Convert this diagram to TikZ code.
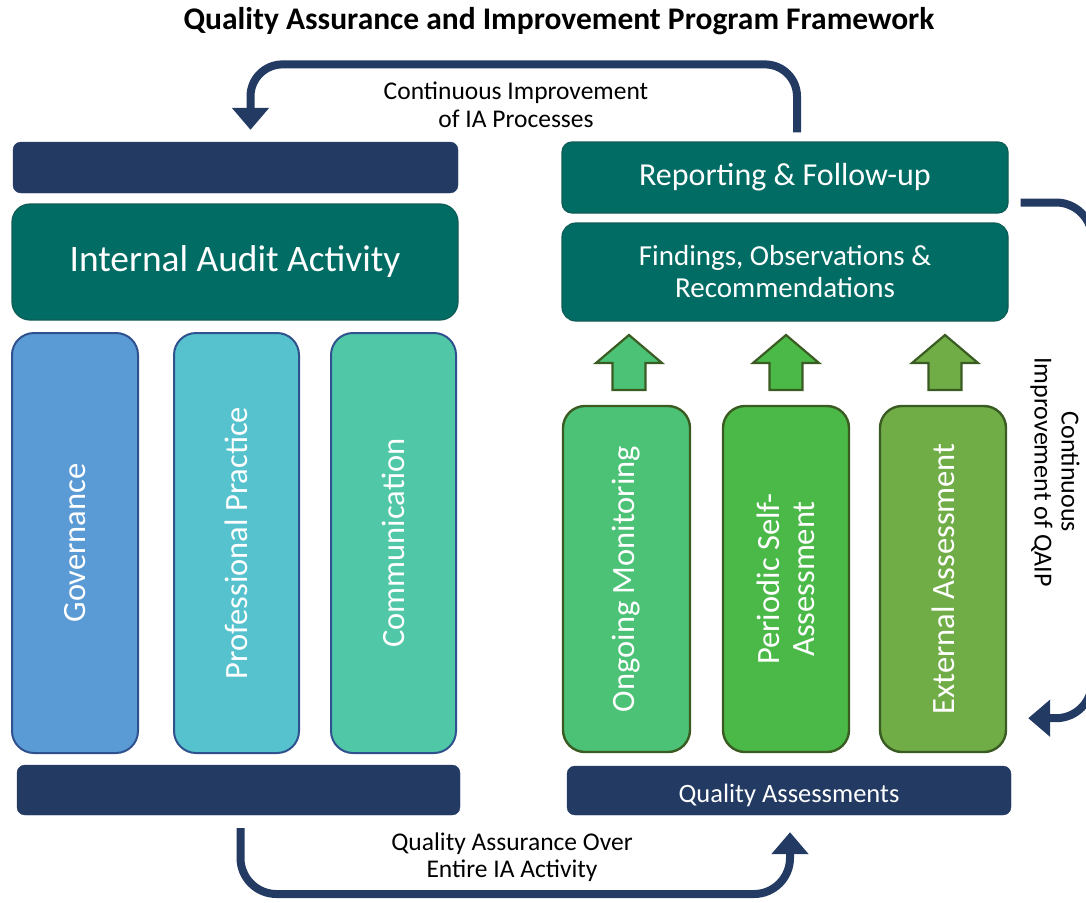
\documentclass[tikz,border=0pt]{standalone}
\usepackage{fontspec}
\setmainfont{Carlito}
\usetikzlibrary{arrows.meta}

\definecolor{navy}{RGB}{35,58,99}
\definecolor{teal}{RGB}{0,108,100}
\definecolor{tealedge}{RGB}{14,92,86}
\definecolor{blueedge}{RGB}{47,82,143}
\definecolor{govfill}{RGB}{91,155,213}
\definecolor{proffill}{RGB}{86,194,205}
\definecolor{commfill}{RGB}{80,200,168}
\definecolor{greenedge}{RGB}{58,92,35}
\definecolor{ongfill}{RGB}{76,194,118}
\definecolor{perfill}{RGB}{74,185,71}
\definecolor{extfill}{RGB}{112,173,71}

\tikzset{
  navbar/.style={fill=navy, draw=navy, rounded corners=8, inner sep=0},
  tealbox/.style={fill=teal, draw=tealedge, line width=1.2, text=white, inner sep=0, align=center},
  pillar/.style={draw=blueedge, line width=2, rounded corners=22, inner sep=0},
  gpillar/.style={draw=greenedge, line width=2.4, rounded corners=22, inner sep=0},
  vlabel/.style={rotate=90, text=white, align=center, font=\fontsize{32.5}{35}\selectfont},
  uparrow/.style={draw=greenedge, line width=2.2, line join=miter},
  flow/.style={draw=navy, line width=8, -{Triangle[width=36, length=22]}},
  caption/.style={align=center, font=\fontsize{25.5}{27.5}\selectfont},
}

\begin{document}
\begin{tikzpicture}[x=1pt, y=-1pt]
\clip (0,0) rectangle (1086,902);
\useasboundingbox (0,0) rectangle (1086,902);

% title
\node[font=\bfseries\fontsize{31.5}{34}\selectfont] (title) at (559,21) {Quality Assurance and Improvement Program Framework};

% ---------- left stack ----------
\node[navbar, minimum width=445, minimum height=51] (topbar) at (235.5,167.5) {};
\node[tealbox, rounded corners=18, minimum width=446, minimum height=116,
      font=\fontsize{37.4}{40}\selectfont] (iaa) at (235,262) {Internal Audit Activity};

\node[pillar, fill=govfill,  minimum width=126, minimum height=420] (gov)  at (75,543) {};
\node[pillar, fill=proffill, minimum width=125, minimum height=420] (prof) at (236.5,543) {};
\node[pillar, fill=commfill, minimum width=125, minimum height=420] (comm) at (393.5,543) {};
\node[vlabel] (govt)  at (gov.center)  {Governance};
\node[vlabel] (proft) at (prof.center) {Professional Practice};
\node[vlabel] (commt) at (comm.center) {Communication};

\node[navbar, minimum width=443, minimum height=50] (botbar) at (238.5,790) {};

% ---------- right stack ----------
\node[tealbox, rounded corners=10, minimum width=446, minimum height=71,
      font=\fontsize{32}{34}\selectfont] (rep) at (785,177.5) {Reporting \& Follow-up};
\node[tealbox, rounded corners=14, minimum width=446, minimum height=98,
      font=\fontsize{29}{32}\selectfont] (find) at (785,272) {Findings, Observations \&\\Recommendations};

\node[gpillar, fill=ongfill, minimum width=127, minimum height=346] (ong) at (626.5,579) {};
\node[gpillar, fill=perfill, minimum width=126, minimum height=346] (per) at (786,579) {};
\node[gpillar, fill=extfill, minimum width=126, minimum height=346] (ext) at (943,579) {};
\node[vlabel] (ongt) at (ong.center) {Ongoing Monitoring};
\node[vlabel] (pert) at (per.center) {Periodic Self-\\Assessment};
\node[vlabel] (extt) at (ext.center) {External Assessment};

% block arrows feeding the findings box
\foreach \cx/\col in {629/ongfill, 786/perfill, 945/extfill}{
  \draw[uparrow, fill=\col, shift={(\cx,390)}]
    (-16.5,0) -- (-16.5,-27) -- (-33,-27) -- (0,-55) -- (33,-27) -- (16.5,-27) -- (16.5,0) -- cycle;
}

% label sits a little below the bar's middle
\node[navbar, minimum width=444, minimum height=49, text=white,
      text height=23pt, text depth=0pt,
      font=\fontsize{26.5}{28}\selectfont] (qa) at (789,790.5) {Quality Assessments};

% ---------- feedback loops ----------
\coordinate (ltip) at ([shift={(15,-12)}]topbar.north);
\draw[flow, rounded corners=32] ([shift={(12,-9)}]rep.north) -- ++(0,-68) -| (ltip);
\node[caption] (lab1) at (516,105) {Continuous Improvement\\of IA Processes};

\coordinate (redge) at (1092,0);
\coordinate (rtip) at ([shift={(21,-35)}]ext.south east);
\draw[flow, rounded corners=36] ([shift={(12,25)}]rep.east) -| (redge |- rtip) -- (rtip);
\node[caption, font=\fontsize{26}{27}\selectfont, rotate=-90] (lab2) at (1055,472) {Continuous\\Improvement of QAIP};

\coordinate (btip) at ([shift={(1,17)}]qa.south);
\coordinate (bline) at (0,894);
\draw[flow, rounded corners=36] ([shift={(2,13)}]botbar.south) |- (bline -| btip) -- (btip);
\node[caption] (lab3) at (512,857) {Quality Assurance Over\\Entire IA Activity};
\end{tikzpicture}
\end{document}
